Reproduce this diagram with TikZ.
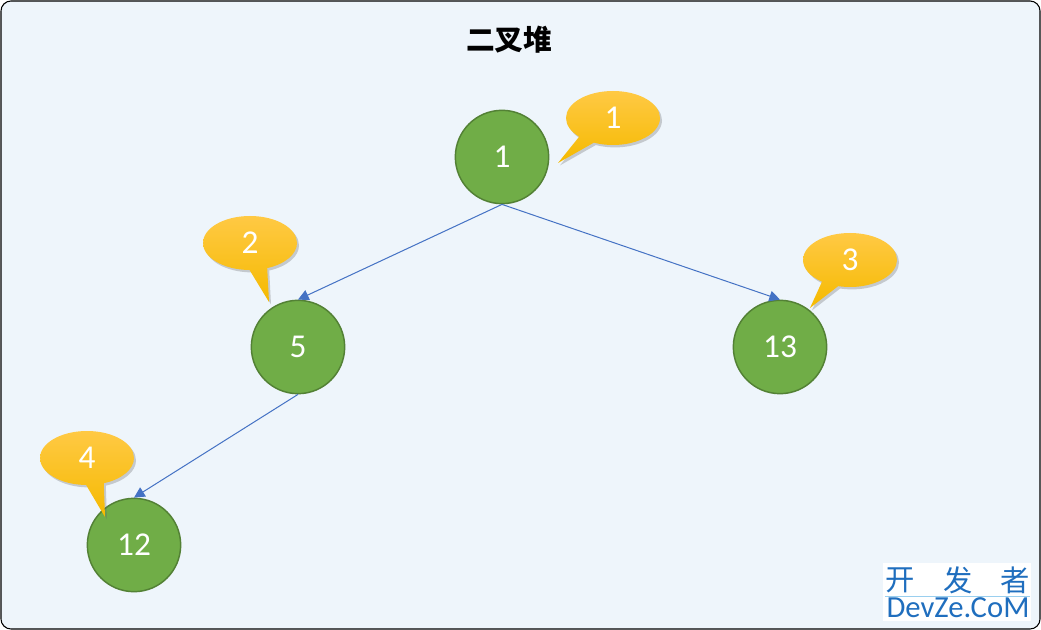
\documentclass[tikz,border=0pt]{standalone}
\usepackage{fontspec}
\setmainfont{Carlito}
\newfontfamily\cjk{Noto Sans CJK SC}
\usetikzlibrary{arrows.meta,shapes.callouts,shadows}
\definecolor{bg}{HTML}{EEF5FB}
\definecolor{nodefill}{HTML}{70AD47}
\definecolor{nodeline}{HTML}{538135}
\definecolor{edgeblue}{HTML}{4472C4}
\definecolor{ytop}{HTML}{FFC944}
\definecolor{ybot}{HTML}{F5BA00}
\definecolor{wm}{HTML}{1F6EBE}
\definecolor{wmline}{HTML}{9ACFEF}
\begin{document}
\begin{tikzpicture}[x=0.75pt,y=-0.75pt,
 heapnode/.style={circle, draw=nodeline, line width=1.1pt, fill=nodefill, minimum size=70pt, inner sep=0pt, text=white, font=\fontsize{25}{28}\selectfont},
 bubble/.style={ellipse callout, minimum width=70.5pt, minimum height=40.5pt, inner sep=0pt, top color=ytop, bottom color=ybot, draw=none, text=white, font=\fontsize{25}{28}\selectfont, callout pointer arc=22, drop shadow={shadow xshift=1.5pt, shadow yshift=-1.8pt, opacity=0.3, fill=black!60}},
 link/.style={draw=edgeblue, line width=0.75pt, -{Triangle[length=8pt,width=8pt]}}]
\useasboundingbox (0,0) rectangle (1041,630);
\fill[white] (0,0) rectangle (1041,630);
\draw[fill=bg, draw=black, line width=0.8pt, rounded corners=7.5pt] (1,1) rectangle (1040,629);

\node (title) at (509,40) {\fontsize{21.5}{24}\selectfont\cjk\bfseries 二叉堆};

\node[heapnode] (n1) at (502,157) {1};
\node[heapnode] (n5) at (298,347) {5};
\node[heapnode] (n13) at (780,347) {13};
\node[heapnode] (n12) at (134,545) {12};

\draw[link] (n1.south) -- (n5.north);
\draw[link] (n1.south) -- (n13.north);
\draw[link] (n5.south) -- (n12.north);

\coordinate (t1) at (558,163);
\coordinate (t2) at (269,302);
\coordinate (t3) at (810,308);
\coordinate (t4) at (105,517);
\node[bubble, callout absolute pointer={(t1)}] (c1) at (613,118) {1};
\node[bubble, callout absolute pointer={(t2)}] (c2) at (250,243) {2};
\node[bubble, callout absolute pointer={(t3)}] (c3) at (850,260) {3};
\node[bubble, callout absolute pointer={(t4)}] (c4) at (87,458) {4};

\fill[white] (883,563) rectangle (1031,621);
\node[text=wm, font=\fontsize{22}{24}\selectfont\cjk] (w1) at (900,580) {开};
\node[text=wm, font=\fontsize{22}{24}\selectfont\cjk] (w2) at (958,580) {发};
\node[text=wm, font=\fontsize{22}{24}\selectfont\cjk] (w3) at (1015,580) {者};
\coordinate (wl1) at (885,596);
\coordinate (wl2) at (1030,596);
\draw[wmline, line width=0.75pt] (wl1) -- (wl2);
\node[text=wm, font=\fontsize{23}{25}\selectfont, inner sep=0pt] (w4) at (958,608) {DevZe.CoM};
\end{tikzpicture}
\end{document}
